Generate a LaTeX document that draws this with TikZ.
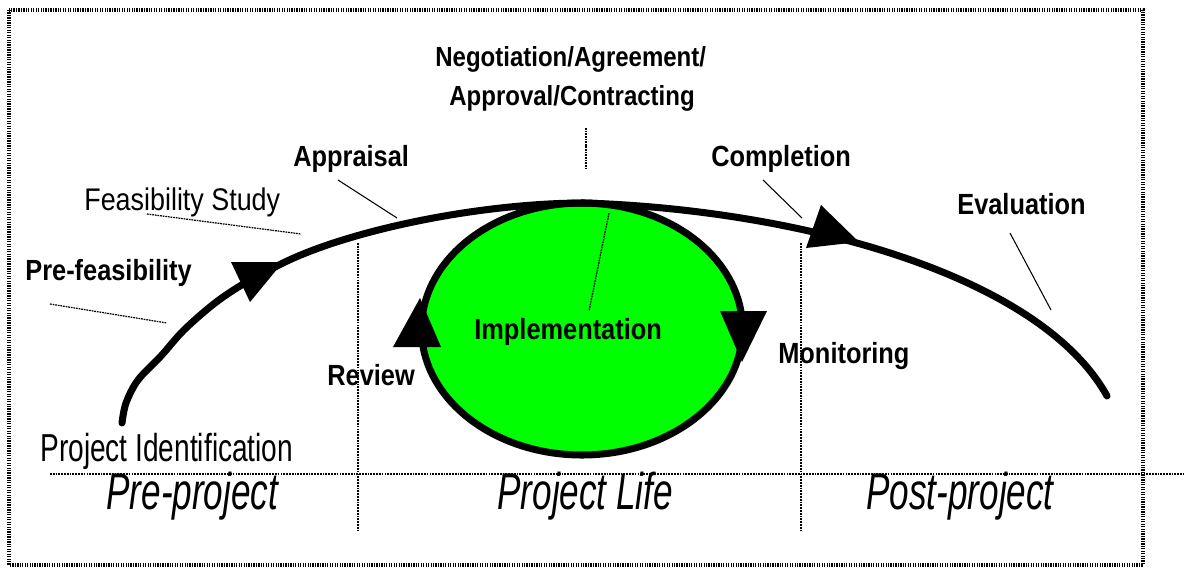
\documentclass[tikz,border=0pt]{standalone}
\usepackage{fontspec}
\setmainfont{Liberation Sans}
\newfontfamily\labelfont{Liberation Sans}[FakeStretch=0.87]
\newfontfamily\stagefont{Liberation Sans}[FakeStretch=0.68]
\newfontfamily\identfont{Liberation Sans}[FakeStretch=0.72]
\newfontfamily\studyfont{Liberation Sans}[FakeStretch=0.86]
\definecolor{implgreen}{RGB}{0,255,0}

\tikzset{
    lbl/.style={inner sep=0pt, anchor=base west, font=\labelfont\bfseries\fontsize{16.6}{20}\selectfont},
    toplbl/.style={lbl, font=\labelfont\bfseries\fontsize{15.7}{19}\selectfont},
    stage/.style={inner sep=0pt, anchor=base west, font=\stagefont\itshape\fontsize{29.4}{34}\selectfont},
    frame/.style={line width=2pt, dash pattern=on 0.7pt off 0.7pt},
    divider/.style={line width=0.9pt, dash pattern=on 1pt off 0.6pt},
    leader/.style={line width=0.6pt},
    dotleader/.style={line width=0.7pt, dash pattern=on 1pt off 0.5pt},
    lifeline/.style={line width=4pt, line cap=round},
}

\begin{document}
\begin{tikzpicture}[x=0.02cm, y=-0.02cm]
        \useasboundingbox (0, 0) rectangle (1184, 568);

        % frame and phase dividers
        \draw[frame] (9, 10) rectangle (1143, 565);
        \draw[divider] (50, 474) -- (1184, 474);
        \draw[divider] (358, 243) -- (358, 530);
        \draw[divider] (801, 243) -- (801, 530);

        % implementation cycle
        \draw[line width=4pt, fill=implgreen] (582, 329) ellipse [x radius=160.5, y radius=126];
        \fill (393, 347) -- (441, 347) -- (420, 298) -- cycle;
        \fill (720, 311) -- (767, 311) -- (742, 362) -- cycle;

        % project life curve
        \draw[lifeline] plot[smooth, tension=0.55] coordinates {(122, 423) (126, 403) (138, 380) (161, 356)
            (184, 330) (215, 303) (245, 283) (283, 263)}
            .. controls (350, 230) and (480, 203) .. (585, 203)
            .. controls (800, 210) and (1040, 275) .. (1107, 396);
        \fill (231, 262) -- (283, 262) -- (250, 302) -- cycle;
        \fill (821, 205) -- (859, 242) -- (806, 248) -- cycle;

        % leaders
        \draw[dotleader] (50, 304) -- (167, 323);
        \draw[dotleader] (147, 214) -- (301, 234);
        \draw[leader] (338, 180) -- (397, 218);
        \draw[dotleader] (586, 128) -- (586, 168);
        \draw[dotleader] (609, 213) -- (589, 311);
        \draw[leader] (763, 180) -- (802, 218);
        \draw[leader] (1010, 233) -- (1051, 310);

        % labels
        \node[toplbl] (negot) at (435, 66) {Negotiation/Agreement/};
        \node[toplbl] (approv) at (449, 105) {Approval/Contracting};
        \node[lbl] (apprais) at (293, 166) {Appraisal};
        \node[inner sep=0pt, anchor=base west, font=\studyfont\fontsize{17.8}{21}\selectfont] (feas) at (84, 210) {Feasibility Study};
        \node[lbl] (prefeas) at (25, 280) {Pre-feasibility};
        \node[lbl] (compl) at (711, 166) {Completion};
        \node[lbl] (evalu) at (957, 214) {Evaluation};
        \node[lbl] (impl) at (474, 339) {Implementation};
        \node[lbl] (review) at (327, 385) {Review};
        \node[lbl] (monit) at (778, 363) {Monitoring};
        \node[inner sep=0pt, anchor=base west, font=\identfont\fontsize{22.2}{26}\selectfont] (ident) at (40, 461) {Project Identification};

        \node[stage] (pre) at (106, 509) {Pre-project};
        \node[stage] (life) at (497, 509) {Project Life};
        \node[stage] (post) at (866, 509) {Post-project};
\end{tikzpicture}
\end{document}
